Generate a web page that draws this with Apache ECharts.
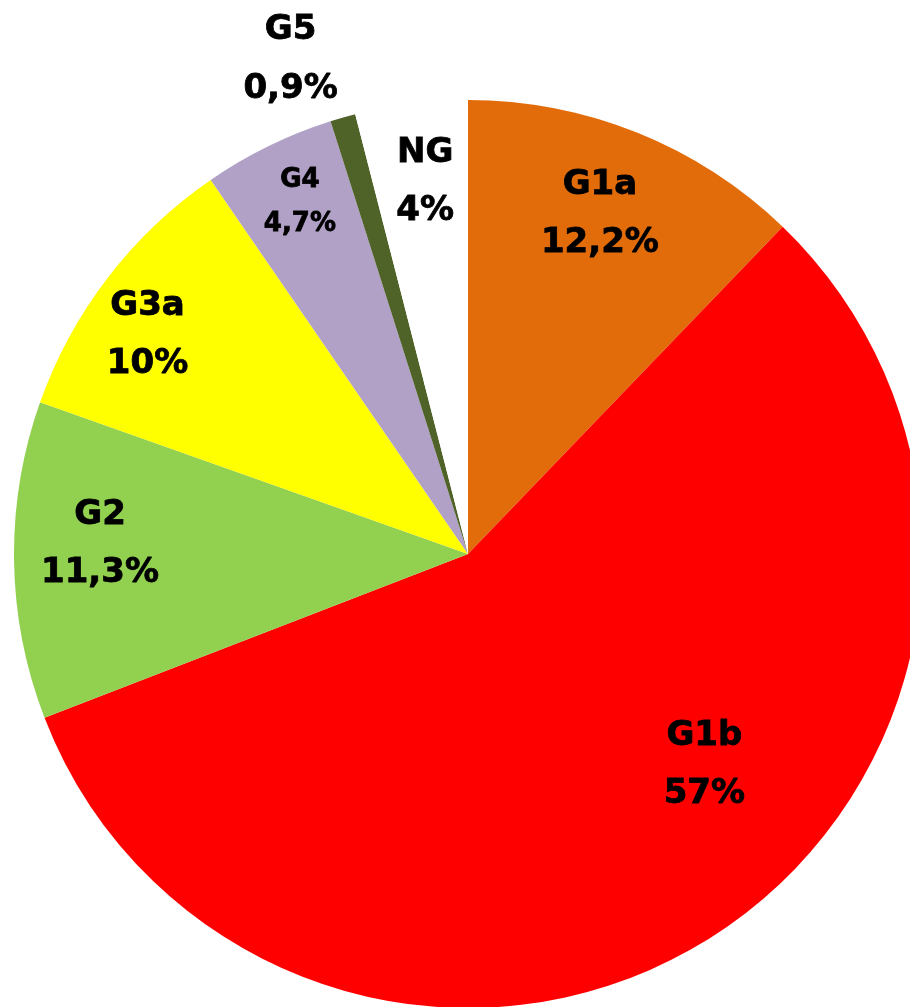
<!DOCTYPE html>
<html>
<head>
<meta charset="utf-8">
<script src="https://cdn.jsdelivr.net/npm/echarts@6/dist/echarts.min.js"></script>
<style>
html,body{margin:0;padding:0;background:#fff;}
#chart{width:910px;height:1007px;}
</style>
</head>
<body>
<div id="chart"></div>
<script>
// Data
var categories = ['G1a', 'G1b', 'G2', 'G3a', 'G4', 'G5', 'NG'];
var values = [12.2, 57, 11.3, 10, 4.7, 0.9, 4];
var colors = ['#E36C0A', '#FF0000', '#92D050', '#FFFF00', '#B2A1C7', '#4F6228', '#FFFFFF'];

// Label styling (offsets from default inside position)
var labelDx = [46, 109, -138, -138, -67, -114, -14];
var labelDy = [-126, 20, -13, -79, -145, -273, -144];
var labelFontSize = [34, 34, 34, 34, 26, 34, 34];
var labelLineHeight = [58, 58, 58, 58, 44, 59, 58];

function fmt(v) {
  return String(v).replace('.', ',') + '%';
}

var chart = echarts.init(document.getElementById('chart'), null, {renderer: 'canvas'});
var data = categories.map(function (c, i) {
  return {
    name: c,
    value: values[i],
    itemStyle: {color: colors[i]},
    label: {fontSize: labelFontSize[i], lineHeight: labelLineHeight[i]}
  };
});

chart.setOption({
  animation: false,
  backgroundColor: '#fff',
  series: [{
    type: 'pie',
    center: [468, 554],
    radius: [0, 454],
    startAngle: 90,
    clockwise: true,
    avoidLabelOverlap: false,
    silent: true,
    itemStyle: {borderWidth: 0},
    label: {
      show: true,
      position: 'inside',
      color: '#000',
      fontFamily: 'DejaVu Sans',
      fontWeight: 'bold',
      textBorderColor: '#000',
      textBorderWidth: 0.8,
      formatter: function (p) { return p.name + '\n' + fmt(p.value); }
    },
    labelLine: {show: false},
    labelLayout: function (p) {
      return {dx: labelDx[p.dataIndex], dy: labelDy[p.dataIndex]};
    },
    data: data
  }]
});
</script>
</body>
</html>
